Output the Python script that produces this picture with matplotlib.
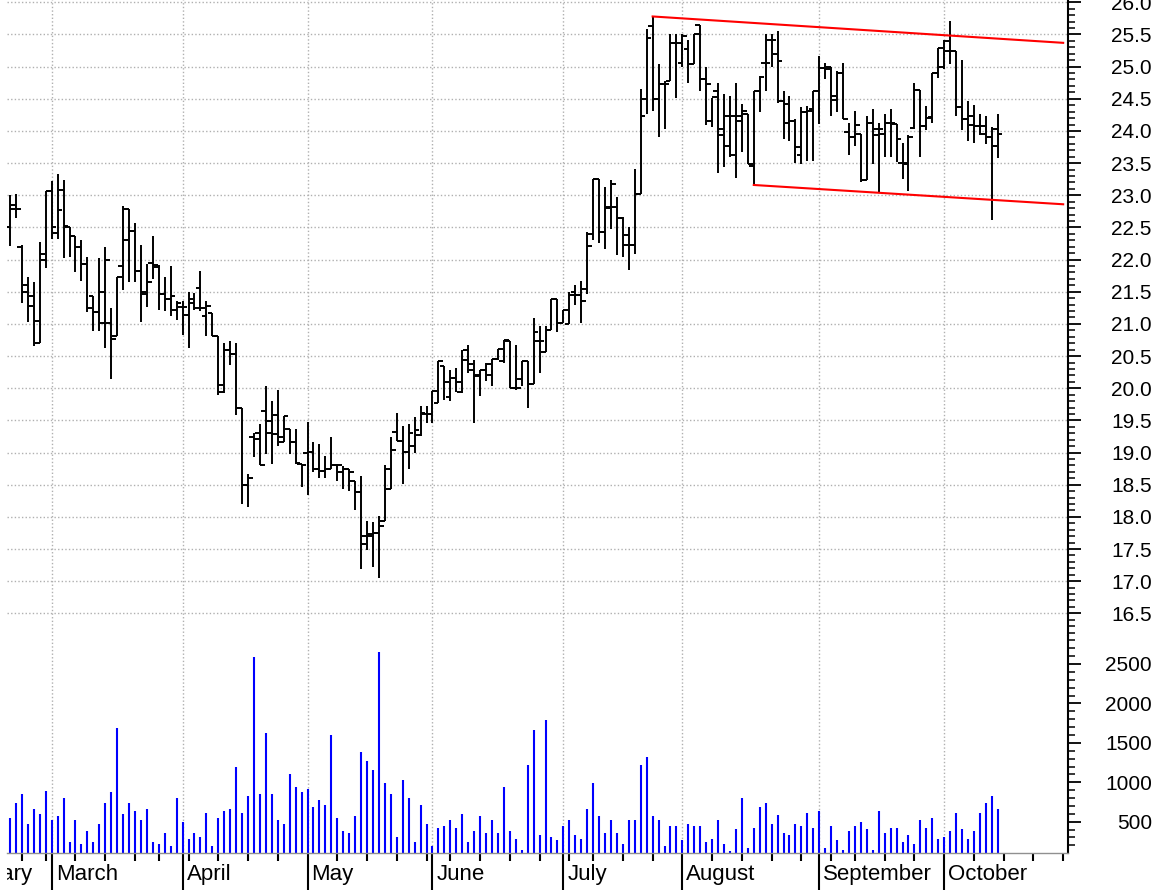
import numpy as np
import matplotlib
matplotlib.use("Agg")
from matplotlib import pyplot as plt
from matplotlib.patches import Rectangle
from matplotlib.ticker import MultipleLocator, FormatStrFormatter

# trading calendar (2005, US market holidays)
holidays = ['2005-01-17', '2005-02-21', '2005-03-25', '2005-05-30',
            '2005-07-04', '2005-09-05', '2005-11-24']
first_day = '2005-02-17'
month_names = ['January', 'February', 'March', 'April', 'May', 'June',
               'July', 'August', 'September', 'October', 'November']

opens = [22.50, 22.85, 22.20, 21.60, 21.44, 20.71, 22.00,
         23.06, 22.42, 23.08, 22.50, 22.36, 22.20, 21.93, 21.43, 21.19, 21.02,
         21.02, 20.81, 21.90, 22.79, 22.45, 21.82, 21.46, 21.95, 21.88, 21.46,
         21.39, 21.22, 21.27, 21.14, 21.33, 21.56, 21.12, 21.17, 20.81, 19.94,
         20.60, 20.53, 19.70, 18.50, 19.24, 19.31, 19.65, 19.49, 19.58, 19.16,
         19.37, 19.17, 18.82, 19.00, 19.01, 18.74, 18.72, 18.74, 18.80, 18.69,
         18.74, 18.55, 18.38, 17.71, 17.74, 17.75, 17.94, 18.43, 19.32, 19.18,
         19.01, 19.10, 19.28, 19.60, 19.60, 19.77, 20.34, 19.86, 20.16, 19.94,
         20.60, 20.28, 20.20, 20.28, 20.20, 20.46, 20.42, 20.73, 20.00, 20.15,
         20.42, 20.06, 20.73, 20.57, 20.91, 21.38, 21.02, 21.00, 21.49, 21.45,
         21.55, 22.40, 23.26, 22.43, 22.82, 22.82, 22.64, 22.38, 22.22, 23.02,
         24.49, 25.63, 24.49, 24.73, 24.78, 25.36, 25.06, 25.27, 25.04, 25.65,
         24.80, 24.16, 24.62, 24.03, 24.24, 24.24, 24.16, 24.26, 23.46, 24.62,
         25.06, 25.42, 25.19, 24.47, 24.13, 24.15, 23.62, 24.29, 24.34, 24.62,
         24.98, 25.00, 24.48, 24.90, 23.98, 23.91, 23.95, 23.23, 24.12, 24.03,
         23.95, 24.13, 24.11, 23.50, 23.49, 24.05, 24.63, 24.08, 24.21, 24.90,
         25.00, 25.24, 25.24, 24.38, 24.18, 24.10, 24.08, 23.95, 23.90, 24.03]
highs = [23.01, 23.02, 22.22, 21.73, 21.65, 22.27, 23.06,
         23.22, 23.33, 23.23, 22.50, 22.36, 22.31, 22.04, 21.43, 22.03, 22.20,
         21.25, 21.73, 22.83, 22.79, 22.57, 22.22, 21.93, 22.36, 21.91, 21.73,
         21.90, 21.35, 21.35, 21.49, 21.48, 21.82, 21.36, 21.17, 20.81, 20.71,
         20.73, 20.70, 19.70, 18.67, 19.31, 19.44, 20.04, 19.80, 19.98, 19.57,
         19.37, 19.36, 18.82, 19.47, 19.16, 19.13, 18.95, 19.24, 18.82, 18.79,
         18.74, 18.56, 18.64, 17.94, 17.92, 18.02, 18.80, 19.24, 19.61, 19.42,
         19.44, 19.55, 19.72, 19.72, 19.95, 20.42, 20.34, 20.28, 20.31, 20.60,
         20.67, 20.44, 20.28, 20.39, 20.46, 20.61, 20.75, 20.73, 20.67, 20.42,
         20.42, 21.09, 20.97, 20.97, 21.38, 21.38, 21.22, 21.49, 21.60, 21.66,
         22.43, 23.26, 23.26, 23.13, 23.23, 22.97, 22.66, 22.50, 23.41, 24.65,
         25.58, 25.78, 25.04, 24.78, 25.50, 25.50, 25.50, 25.42, 25.50, 25.65,
         25.00, 24.52, 24.75, 24.58, 24.55, 24.75, 24.42, 24.26, 24.62, 24.86,
         25.50, 25.50, 25.56, 24.62, 24.55, 24.18, 24.38, 24.39, 24.62, 25.16,
         25.06, 25.00, 24.93, 25.05, 24.13, 24.31, 23.95, 24.24, 24.34, 24.13,
         24.27, 24.34, 24.11, 23.81, 23.93, 24.75, 24.63, 24.39, 24.90, 25.29,
         25.42, 25.71, 25.25, 25.10, 24.47, 24.41, 24.26, 24.24, 24.06, 24.26]
lows = [22.21, 22.65, 21.33, 21.03, 20.66, 20.71, 21.87,
        22.32, 22.32, 22.02, 22.04, 21.80, 21.66, 21.18, 20.89, 20.89, 20.63,
        20.15, 20.81, 21.53, 21.65, 21.65, 21.03, 21.27, 21.70, 21.22, 21.20,
        21.13, 21.06, 20.83, 20.63, 21.22, 21.20, 20.81, 20.81, 19.89, 19.93,
        20.36, 19.58, 18.20, 18.15, 18.93, 18.81, 18.98, 18.82, 19.10, 19.16,
        18.98, 18.82, 18.46, 18.34, 18.69, 18.61, 18.60, 18.74, 18.56, 18.43,
        18.41, 18.11, 17.19, 17.48, 17.22, 17.05, 17.94, 18.43, 19.18, 18.51,
        18.74, 19.00, 19.25, 19.46, 19.46, 19.77, 19.81, 19.80, 19.94, 19.92,
        20.24, 19.46, 19.88, 20.11, 20.03, 20.44, 20.40, 20.00, 19.98, 20.03,
        19.69, 20.06, 20.24, 20.57, 20.91, 20.88, 21.02, 21.00, 21.29, 21.02,
        21.46, 22.30, 22.26, 22.17, 22.48, 22.07, 22.04, 21.84, 22.09, 23.02,
        24.26, 24.31, 23.90, 24.03, 24.78, 24.52, 25.00, 24.75, 25.04, 24.62,
        24.10, 24.06, 23.34, 23.44, 23.59, 23.27, 23.67, 23.49, 23.15, 24.29,
        24.62, 25.00, 24.44, 23.88, 23.85, 23.50, 23.49, 23.54, 23.54, 24.11,
        24.80, 24.24, 24.29, 24.18, 23.63, 23.77, 23.20, 23.23, 23.49, 23.05,
        23.60, 23.60, 23.51, 23.26, 23.06, 24.03, 23.59, 24.01, 24.13, 24.83,
        24.96, 25.04, 24.24, 24.01, 23.85, 23.82, 23.93, 23.80, 22.61, 23.58]
closes = [22.79, 22.79, 21.50, 21.28, 21.04, 22.09, 23.06,
          22.50, 22.77, 22.53, 22.36, 22.20, 21.93, 21.25, 21.19, 21.50, 22.00,
          20.76, 21.73, 22.31, 22.45, 21.82, 21.50, 21.65, 21.91, 21.46, 21.39,
          21.44, 21.33, 21.27, 21.38, 21.25, 21.25, 21.28, 20.81, 20.05, 20.60,
          20.53, 19.70, 18.50, 18.60, 19.21, 18.81, 19.31, 19.29, 19.24, 19.57,
          19.17, 18.84, 18.80, 19.01, 18.74, 18.72, 18.74, 18.80, 18.80, 18.74,
          18.69, 18.38, 17.58, 17.71, 17.75, 17.86, 18.75, 19.04, 19.18, 19.01,
          19.30, 19.35, 19.62, 19.60, 19.95, 20.42, 20.09, 20.16, 20.09, 20.44,
          20.38, 20.19, 20.28, 20.38, 20.46, 20.61, 20.75, 20.00, 20.00, 20.42,
          20.06, 20.88, 20.73, 20.91, 21.38, 21.01, 21.22, 21.45, 21.45, 21.35,
          22.21, 23.26, 22.43, 22.80, 23.17, 22.64, 22.22, 22.22, 23.02, 24.24,
          25.44, 24.49, 24.73, 24.73, 25.36, 25.36, 25.47, 25.04, 25.50, 24.80,
          24.73, 24.53, 23.93, 23.76, 23.62, 24.24, 24.31, 23.49, 24.62, 24.84,
          25.06, 25.42, 25.09, 24.42, 24.15, 23.75, 24.29, 24.31, 24.62, 24.98,
          24.96, 24.55, 24.90, 24.18, 23.91, 24.10, 23.23, 24.12, 23.93, 24.03,
          24.13, 24.13, 23.88, 23.50, 23.90, 24.63, 24.08, 24.20, 24.90, 25.29,
          25.40, 25.24, 24.38, 24.18, 24.24, 24.08, 24.08, 23.90, 23.76, 23.95]
volumes = [543, 733, 847, 475, 657, 593, 893,
           522, 568, 800, 242, 522, 217, 377, 242, 475, 733,
           872, 1692, 593, 733, 635, 522, 657, 242, 217, 356,
           191, 800, 496, 285, 356, 310, 614, 191, 543, 635,
           657, 1198, 614, 826, 2584, 847, 1620, 847, 522, 475,
           1104, 940, 872, 914, 682, 775, 708, 1599, 543, 377,
           356, 568, 1384, 1270, 1151, 2652, 986, 847, 306, 1033,
           800, 242, 708, 475, 191, 424, 449, 522, 424, 593,
           242, 377, 568, 356, 522, 356, 940, 377, 285, 145,
           1223, 1667, 331, 1785, 306, 263, 449, 522, 331, 285,
           657, 986, 568, 356, 522, 356, 217, 522, 522, 1223,
           1316, 568, 522, 191, 449, 449, 263, 475, 449, 449,
           242, 285, 522, 217, 124, 403, 800, 166, 424, 682,
           733, 475, 589, 356, 331, 475, 449, 614, 424, 635,
           166, 449, 263, 145, 377, 449, 496, 403, 145, 635,
           356, 424, 424, 242, 331, 217, 522, 424, 543, 285,
           310, 377, 614, 403, 285, 377, 614, 733, 826, 661]

# channel lines drawn on the chart
upper_dates = ['2005-07-25', '2005-10-31']
upper_prices = [25.78, 25.37]
lower_dates = ['2005-08-17', '2005-10-31']
lower_prices = [23.16, 22.86]

plt.rcParams['font.family'] = ['Liberation Sans', 'DejaVu Sans']

cal = np.arange(np.datetime64('2005-01-03'), np.datetime64('2005-12-01'))
cal = cal[np.is_busday(cal, holidays=holidays)]


def pos(d):
    return int(np.searchsorted(cal, np.datetime64(d)))


start = pos(first_day)
x = np.arange(start, start + len(closes))

month_of = cal.astype('datetime64[M]')
month_starts = [0] + [i for i in range(1, len(cal)) if month_of[i] != month_of[i - 1]]
week_of = (cal.astype('int64') + 3) // 7
week_starts = [i for i in range(1, len(cal)) if week_of[i] != week_of[i - 1]]

fig = plt.figure(figsize=(11.63, 8.90), dpi=100)
left, width = 7 / 1163, 1060.7 / 1163
ax = fig.add_axes([left, 0.2854, width, 0.7146])
axv = fig.add_axes([left, 0.0419, width, 0.2435], sharex=ax)

grid_kw = dict(color='#b0b0b0', linestyle=(0, (1, 1.6)), linewidth=1.0)

# price bars
ax.vlines(x, lows, highs, color='black', lw=1.4)
ax.hlines(opens, x - 0.8, x, color='black', lw=1.4)
ax.hlines(closes, x, x + 0.8, color='black', lw=1.4)
ax.plot([pos(d) for d in upper_dates], upper_prices, color='red', lw=1.5)
ax.plot([pos(d) for d in lower_dates], lower_prices, color='red', lw=1.5)

# volume bars
axv.vlines(x, 0, volumes, color='#0000ff', lw=1.5)

for a in (ax, axv):
    for s in ('left', 'top', 'bottom'):
        a.spines[s].set_visible(False)
    a.spines['right'].set_linewidth(1.5)
    a.yaxis.tick_right()
    a.set_xticks(month_starts)
    a.set_xticks(week_starts, minor=True)
    a.grid(axis='x', which='major', **grid_kw)
    a.tick_params(axis='y', which='major', length=9.6, width=1.3, pad=51,
                  labelsize=15, colors='black')
    a.tick_params(axis='y', which='minor', length=5, width=1.1)
    a.set_axisbelow(True)

m_mar = pos('2005-03-01')
xmin, xmax = m_mar - 7.51, m_mar + 170.76
axv.set_xlim(xmin, xmax)
ax.set_ylim(16.148, 26.036)

ax.grid(axis='y', which='major', **grid_kw)
ax.yaxis.set_major_locator(MultipleLocator(0.5))
ax.yaxis.set_minor_locator(MultipleLocator(0.1))
ax.yaxis.set_major_formatter(FormatStrFormatter('%.1f'))
ax.tick_params(axis='x', which='both', bottom=False, labelbottom=False)

axv.yaxis.set_major_locator(MultipleLocator(500))
axv.yaxis.set_minor_locator(MultipleLocator(100))
axv.set_yticks([500, 1000, 1500, 2000, 2500])
axv.set_ylim(107, 2855)
axv.spines['bottom'].set_visible(True)
axv.spines['bottom'].set_color('#909090')
axv.spines['bottom'].set_linewidth(1.0)
axv.tick_params(axis='x', which='major', length=27.5, width=1.5, labelbottom=False)
axv.tick_params(axis='x', which='minor', length=6, width=1.5)

for a in (ax, axv):
    for lab in a.get_yticklabels():
        lab.set_horizontalalignment('right')

# month names sit right of each month's first bar, cut at the chart's left edge
clip = Rectangle((left, 0), width, 1, transform=fig.transFigure)
for i in month_starts:
    if i > xmax:
        continue
    name = month_names[int(str(month_of[i])[5:7]) - 1]
    t = axv.annotate(name, xy=(i, 0), xycoords=axv.get_xaxis_transform(),
                     xytext=(4, -22), textcoords='offset pixels', ha='left',
                     va='center', fontsize=16, annotation_clip=False)
    t.set_clip_path(clip)

fig.savefig('out.png', dpi=100)
